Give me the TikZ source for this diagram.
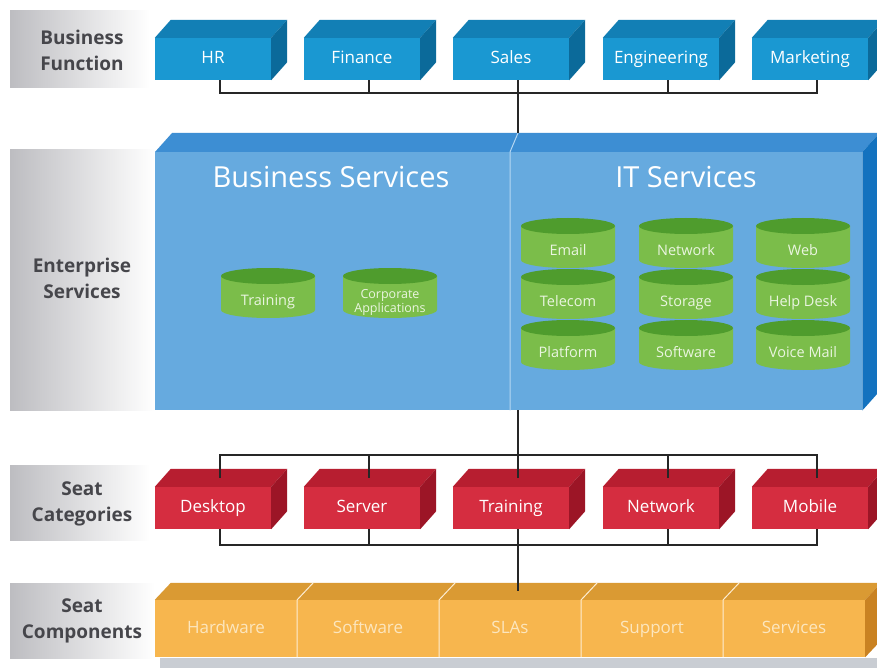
\documentclass[tikz,border=0pt]{standalone}
\usepackage{fontspec}
\setmainfont{Open Sans}
\usetikzlibrary{calc}
\definecolor{bfFront}{HTML}{1A98D2}
\definecolor{bfTop}{HTML}{127FB5}
\definecolor{bfSide}{HTML}{0B6A9A}
\definecolor{entFront}{HTML}{66AADF}
\definecolor{entTop}{HTML}{3D8ED3}
\definecolor{entSide}{HTML}{1372BF}
\definecolor{entDiv}{HTML}{B5D7F2}
\definecolor{scFront}{HTML}{D52D40}
\definecolor{scTop}{HTML}{B71E30}
\definecolor{scSide}{HTML}{9C1526}
\definecolor{cpFront}{HTML}{F7B64E}
\definecolor{cpTop}{HTML}{DA9A33}
\definecolor{cpSide}{HTML}{C98222}
\definecolor{cpText}{HTML}{FCE6BE}
\definecolor{cylBody}{HTML}{7BBD4A}
\definecolor{cylTop}{HTML}{4F9C2D}
\definecolor{cylText}{HTML}{EAF5E0}
\definecolor{lblGray}{HTML}{BDBDC1}
\definecolor{lblText}{HTML}{46464B}
\definecolor{connC}{HTML}{262626}
\definecolor{barGray}{HTML}{C9CDD3}
\newcommand{\cubefaces}[3]{%
  \fill[#2] (#1.north west) -- ++(16,-18) -- ($(#1.north east)+(16,-18)$) -- (#1.north east) -- cycle;
  \fill[#3] (#1.north east) -- ++(16,-18) -- ($(#1.south east)+(16,-18)$) -- (#1.south east) -- cycle;}
\newcommand{\cylshape}[5][]{%
  \fill[cylBody] (#3-47,#4) -- ++(0,34) arc[start angle=180, end angle=0, x radius=47, y radius=8] -- ++(0,-34) -- cycle;
  \fill[cylTop] (#3,#4) ellipse[x radius=47, y radius=8];
  \node[cyltxt,#1] (#2) at (#3,#4+26) {#5};}
\begin{document}
\begin{tikzpicture}[x=1pt,y=-1pt,
  conn/.style={draw=connC, line width=2.5pt},
  lbl/.style={font=\fontsize{19}{26}\selectfont\bfseries, text=lblText, align=center},
  boxtext/.style={inner sep=0pt, font=\fontsize{17}{20}\selectfont, text height=12.5pt, text depth=3.5pt},
  bfbox/.style={boxtext, fill=bfFront, text=white, minimum width=116pt, minimum height=42pt},
  scbox/.style={boxtext, fill=scFront, text=white, minimum width=116pt, minimum height=42pt},
  cpseg/.style={boxtext, fill=cpFront, text=cpText, minimum width=142pt, minimum height=57pt},
  entface/.style={fill=entFront, inner sep=0pt, minimum height=258pt, anchor=north west},
  enttitle/.style={text=white, font=\fontsize{29}{32}\selectfont},
  cyltxt/.style={text=cylText, align=center, font=\fontsize{14.5}{16}\selectfont, text height=10.5pt, text depth=3pt},
  cylsmall/.style={font=\fontsize{12.5}{14}\selectfont, text height=, text depth=},
  cpdiv/.style={draw=white!75!cpFront, line width=1pt}
]
\useasboundingbox (0,0) rectangle (877,668);
\fill[white] (0,0) rectangle (877,668);

% left labels
\shade[left color=lblGray, right color=white] (10,11) rectangle (150,88);
\shade[left color=lblGray, right color=white] (10,150) rectangle (155,410);
\shade[left color=lblGray, right color=white] (10,465) rectangle (150,540);
\shade[left color=lblGray, right color=white] (10,583) rectangle (155,658);
\node[lbl] (lbf) at (82,50) {Business\\Function};
\node[lbl] (les) at (82,278.5) {Enterprise\\Services};
\node[lbl] (lsc) at (82,503.5) {Seat\\Categories};
\node[lbl] (lcp) at (82,620.5) {Seat\\Components};

% business function boxes
\node[bfbox] (hr)  at (213,59) {HR};
\node[bfbox] (fin) at (362,59) {Finance};
\node[bfbox] (sal) at (511,59) {Sales};
\node[bfbox] (eng) at (661,59) {Engineering};
\node[bfbox] (mkt) at (810,59) {Marketing};
\foreach \n in {hr,fin,sal,eng,mkt}{\cubefaces{\n}{bfTop}{bfSide}}

% enterprise services
\node[entface, minimum width=355pt] (bs) at (155,152) {};
\node[entface, minimum width=352pt] (its) at (510,152) {};
\fill[entTop] (bs.north west) -- ++(17,-19) -- ($(its.north east)+(17,-19)$) -- (its.north east) -- cycle;
\fill[entSide] (its.north east) -- ++(17,-19) -- ($(its.south east)+(17,-19)$) -- (its.south east) -- cycle;
\draw[entDiv, line width=1pt] (its.south west) -- (its.north west) -- ++(8,-19);
\node[enttitle] (bst) at (331,177) {Business Services};
\node[enttitle] (itt) at (686,177) {IT Services};

\cylshape{ctr}{268}{276}{Training}
\cylshape[cylsmall]{cca}{390}{276}{Corporate\\Applications}
\cylshape{cem}{568}{226}{Email}
\cylshape{cnw}{686}{226}{Network}
\cylshape{cwb}{803}{226}{Web}
\cylshape{ctl}{568}{277}{Telecom}
\cylshape{cst}{686}{277}{Storage}
\cylshape{chd}{803}{277}{Help Desk}
\cylshape{cpl}{568}{328}{Platform}
\cylshape{csw}{686}{328}{Software}
\cylshape{cvm}{803}{328}{Voice Mail}

% seat categories
\node[scbox] (dsk) at (213,508) {Desktop};
\node[scbox] (srv) at (362,508) {Server};
\node[scbox] (trn) at (511,508) {Training};
\node[scbox] (net) at (661,508) {Network};
\node[scbox] (mob) at (810,508) {Mobile};
\foreach \n in {dsk,srv,trn,net,mob}{\cubefaces{\n}{scTop}{scSide}}

% seat components
\fill[barGray] (160,658) rectangle (877,668);
\node[cpseg] (hw)  at (226,628.5) {Hardware};
\node[cpseg] (sw)  at (368,628.5) {Software};
\node[cpseg] (sla) at (510,628.5) {SLAs};
\node[cpseg] (sup) at (652,628.5) {Support};
\node[cpseg] (svc) at (794,628.5) {Services};
\fill[cpTop] (hw.north west) -- ++(16,-17) -- ($(svc.north east)+(16,-17)$) -- (svc.north east) -- cycle;
\fill[cpSide] (svc.north east) -- ++(16,-17) -- ($(svc.south east)+(16,-17)$) -- (svc.south east) -- cycle;
\foreach \n in {hw,sw,sla,sup}{\draw[cpdiv] (\n.south east) -- (\n.north east) -- ++(16,-17);}

% connectors: business function
\draw[conn] ([xshift=7pt]hr.south) -- ++(0,13) -| ([xshift=7pt]mkt.south);
\draw[conn] ([xshift=7pt]fin.south) -- ++(0,13);
\draw[conn] ([xshift=7pt]eng.south) -- ++(0,13);
\draw[conn] ([xshift=7pt]sal.south) -- ($(its.north west)+(8,-19)$);

% connectors: seat categories
\draw[conn] ([xshift=7pt,yshift=9pt]dsk.north) -- ++(0,-23) -| ([xshift=7pt,yshift=9pt]mob.north);
\draw[conn] ([xshift=7pt,yshift=9pt]srv.north) -- ++(0,-23);
\draw[conn] ([xshift=7pt,yshift=9pt]net.north) -- ++(0,-23);
\draw[conn] ($(its.south west)+(8,0)$) -- ([xshift=7pt,yshift=9pt]trn.north);
\draw[conn] ([xshift=7pt]dsk.south) -- ++(0,16) -| ([xshift=7pt]mob.south);
\draw[conn] ([xshift=7pt]srv.south) -- ++(0,16);
\draw[conn] ([xshift=7pt]net.south) -- ++(0,16);
\draw[conn] ([xshift=7pt]trn.south) -- ($(sla.north)+(8,-9)$);
\end{tikzpicture}
\end{document}
